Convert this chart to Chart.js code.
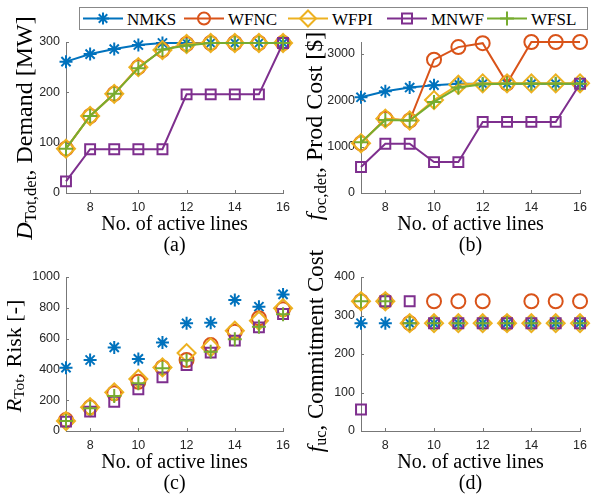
<!DOCTYPE html>
<html>
<head>
<meta charset="utf-8">
<script src="https://cdn.jsdelivr.net/npm/chart.js@4.4.1/dist/chart.umd.min.js"></script>
<style>
  body { margin: 0; background: #fff; }
  #wrap { position: relative; width: 594px; height: 499px; overflow: hidden; }
  canvas { position: absolute; }
  #legend { position: absolute; left: 79px; top: 7px; z-index: 5; }
</style>
</head>
<body>
<div id="wrap">
  <canvas id="chartC" width="297" height="259" style="left:0;top:240px"></canvas>
  <canvas id="chartD" width="297" height="259" style="left:297px;top:240px"></canvas>
  <canvas id="chartA" width="297" height="262" style="left:0;top:0"></canvas>
  <canvas id="chartB" width="297" height="262" style="left:297px;top:0"></canvas>
  <svg id="legend" width="509" height="23"></svg>
</div>
<script>
// x values shared by all panels
const activeLines = [7, 8, 9, 10, 11, 12, 13, 14, 15, 16];
const xTicks = [8, 10, 12, 14, 16];
const seriesNames = ['NMKS', 'WFNC', 'WFPI', 'MNWF', 'WFSL'];

// (a) demand [MW]
const demandNMKS = [261, 276, 286, 294, 298, 298, 298, 298, 298, 298];
const demandWFNC = [88, 153, 197, 250, 284, 296, 298, 298, 298, 298];
const demandWFPI = [88, 153, 197, 250, 284, 296, 298, 298, 298, 298];
const demandMNWF = [23, 87, 87, 87, 87, 196, 196, 196, 196, 298];
const demandWFSL = [88, 153, 197, 248, 285, 293, 298, 298, 298, 298];

// (b) production cost [$]
const prodNMKS = [2060, 2190, 2270, 2320, 2350, 2350, 2350, 2350, 2350, 2350];
const prodWFNC = [1070, 1600, 1560, 2870, 3140, 3225, 2360, 3250, 3250, 3250];
const prodWFPI = [1070, 1600, 1560, 2000, 2330, 2360, 2360, 2360, 2360, 2360];
const prodMNWF = [560, 1060, 1060, 665, 665, 1530, 1530, 1530, 1530, 2350];
const prodWFSL = [1090, 1570, 1560, 1960, 2270, 2340, 2350, 2350, 2350, 2350];

// (c) risk [-]
const riskNMKS = [411, 461, 543, 468, 574, 699, 703, 851, 807, 887];
const riskWFNC = [71, 154, 245, 320, 413, 461, 558, 645, 732, 790];
const riskWFPI = [65, 154, 251, 338, 413, 506, 543, 651, 716, 797];
const riskMNWF = [61, 126, 190, 271, 348, 429, 509, 587, 673, 760];
const riskWFSL = [65, 147, 227, 310, 407, 457, 515, 595, 677, 758];

// (d) commitment cost
const commitNMKS = [280, 280, 280, 280, 280, 280, 280, 280, 280, 280];
const commitWFNC = [337, 337, 280, 337, 337, 337, 280, 337, 337, 337];
const commitWFPI = [337, 337, 280, 280, 280, 280, 280, 280, 280, 280];
const commitMNWF = [56, 337, 337, 280, 280, 280, 280, 280, 280, 280];
const commitWFSL = [337, 337, 280, 280, 280, 280, 280, 280, 280, 280];

const colors = ['#0072BD', '#D95319', '#EDB120', '#7E2F8E', '#77AC30'];
const markers = [
  { style: 'star', r: 6.5 },
  { style: 'circle', r: 7 },
  { style: 'rectRot', r: 9 },
  { style: 'rect', r: 7 },
  { style: 'cross', r: 7 }
];

const serif = '"Liberation Serif", serif';
const sans = '"Liberation Sans", Arial, sans-serif';
const axisColor = '#777';
const tickColor = '#262626';

// draws axis titles, caption and inward tick marks
const axisText = {
  id: 'axisText',
  afterDraw(chart, args, o) {
    const { ctx, chartArea: a } = chart;
    const cx = (a.left + a.right) / 2;
    ctx.save();
    ctx.fillStyle = '#000';
    ctx.textAlign = 'center';
    ctx.textBaseline = 'alphabetic';
    ctx.font = '20px ' + serif;
    ctx.fillText('No. of active lines', cx, a.bottom + 37);
    ctx.fillText(o.caption, cx, a.bottom + 58);

    // y label with italic symbol and subscript
    ctx.translate(o.yx, o.yy);
    ctx.rotate(-Math.PI / 2);
    ctx.textAlign = 'left';
    const fontOf = p => (p.it ? 'italic ' : '') + (p.sub ? o.size * 0.7 : o.size) + 'px ' + serif;
    let total = 0;
    const parts = o.ylabel.map(p => {
      ctx.font = fontOf(p);
      const w = ctx.measureText(p.t).width;
      total += w;
      return Object.assign({ w }, p);
    });
    let x = -total / 2;
    parts.forEach(p => {
      ctx.font = fontOf(p);
      ctx.fillText(p.t, x, p.sub ? o.size * 0.15 : 0);
      x += p.w;
    });
    ctx.restore();

    // inward ticks
    ctx.save();
    ctx.strokeStyle = axisColor;
    ctx.lineWidth = 1;
    ctx.beginPath();
    chart.scales.x.ticks.forEach(t => {
      const px = Math.round(chart.scales.x.getPixelForValue(t.value)) + 0.5;
      ctx.moveTo(px, a.bottom);
      ctx.lineTo(px, a.bottom - 3);
    });
    chart.scales.y.ticks.forEach(t => {
      const py = Math.round(chart.scales.y.getPixelForValue(t.value)) + 0.5;
      ctx.moveTo(a.left, py);
      ctx.lineTo(a.left + 3, py);
    });
    ctx.stroke();
    ctx.restore();
  }
};

function makeChart(id, series, showLine, yMax, yStep, box, text) {
  const canvas = document.getElementById(id);
  const W = canvas.width, H = canvas.height;
  const datasets = series.map((vals, i) => ({
    label: seriesNames[i],
    data: activeLines.map((x, k) => ({ x: x, y: vals[k] })),
    showLine: showLine,
    borderColor: colors[i],
    borderWidth: 2,
    pointStyle: markers[i].style,
    pointRadius: markers[i].r,
    pointBorderWidth: 2,
    pointBorderColor: colors[i],
    pointBackgroundColor: 'rgba(0,0,0,0)',
    order: 5 - i,
    clip: false
  }));
  const yTicks = [];
  for (let v = 0; v <= yMax + 1e-9; v += yStep) yTicks.push(v);
  return new Chart(canvas, {
    type: 'line',
    data: { datasets },
    options: {
      responsive: false,
      animation: false,
      layout: { padding: { left: 0, right: W - box.right, top: box.top, bottom: 0 } },
      plugins: { legend: { display: false }, tooltip: { enabled: false }, axisText: text },
      scales: {
        x: {
          type: 'linear', min: 7, max: 16,
          afterBuildTicks: s => { s.ticks = xTicks.map(v => ({ value: v })); },
          afterFit: s => { s.height = H - box.bottom; },
          grid: { drawOnChartArea: false, drawTicks: false },
          border: { color: axisColor, width: 1 },
          ticks: { color: tickColor, padding: 7, maxRotation: 0, autoSkip: false,
                   callback: v => String(v), font: { family: sans, size: 12.5 } }
        },
        y: {
          type: 'linear', min: 0, max: yMax,
          afterBuildTicks: s => { s.ticks = yTicks.map(v => ({ value: v })); },
          afterFit: s => { s.width = box.left; },
          grid: { drawOnChartArea: false, drawTicks: false },
          border: { color: axisColor, width: 1 },
          ticks: { color: tickColor, padding: 6, autoSkip: false,
                   callback: v => String(v), font: { family: sans, size: 12.5 } }
        }
      }
    },
    plugins: [axisText]
  });
}

makeChart('chartA', [demandNMKS, demandWFNC, demandWFPI, demandMNWF, demandWFSL], true, 300, 100,
  { left: 66, right: 289, top: 42, bottom: 193 },
  { size: 24, caption: '(a)', yx: 32, yy: 128,
    ylabel: [{ t: 'D', it: true }, { t: 'Tot,det', sub: true }, { t: ', Demand [MW]' }] });

makeChart('chartB', [prodNMKS, prodWFNC, prodWFPI, prodMNWF, prodWFSL], true, 3250, 1000,
  { left: 64, right: 288, top: 42, bottom: 193 },
  { size: 24, caption: '(b)', yx: 25, yy: 126,
    ylabel: [{ t: 'f', it: true }, { t: 'oc,det', sub: true }, { t: ', Prod Cost [$]' }] });

makeChart('chartC', [riskNMKS, riskWFNC, riskWFPI, riskMNWF, riskWFSL], false, 1000, 200,
  { left: 66, right: 289, top: 37, bottom: 191 },
  { size: 22, caption: '(c)', yx: 21, yy: 116,
    ylabel: [{ t: 'R', it: true }, { t: 'Tot', sub: true }, { t: ', Risk [-]' }] });

makeChart('chartD', [commitNMKS, commitWFNC, commitWFPI, commitMNWF, commitWFSL], false, 400, 100,
  { left: 64, right: 288, top: 37, bottom: 191 },
  { size: 23, caption: '(d)', yx: 26, yy: 111,
    ylabel: [{ t: 'f', it: true }, { t: 'uc', sub: true }, { t: ', Commitment Cost' }] });

// legend (line sample with marker, then name)
const legend = document.getElementById('legend');
const ns = 'http://www.w3.org/2000/svg';
function el(tag, attrs) {
  const e = document.createElementNS(ns, tag);
  for (const k in attrs) e.setAttribute(k, attrs[k]);
  legend.appendChild(e);
  return e;
}
el('rect', { x: 0.5, y: 0.5, width: 508, height: 22, fill: '#fff', stroke: '#888', 'stroke-width': 1 });
const legendX = [4, 105, 209, 308, 408];
seriesNames.forEach((name, i) => {
  const x0 = legendX[i], cy = 11.5, c = colors[i], mx = x0 + 20;
  el('line', { x1: x0, y1: cy, x2: x0 + 40, y2: cy, stroke: c, 'stroke-width': 2 });
  const st = { fill: 'none', stroke: c, 'stroke-width': 2 };
  if (i === 0) {
    for (let k = 0; k < 4; k++) {
      const ang = k * Math.PI / 4, dx = 6 * Math.cos(ang), dy = 6 * Math.sin(ang);
      el('line', Object.assign({ x1: mx - dx, y1: cy - dy, x2: mx + dx, y2: cy + dy }, st));
    }
  } else if (i === 1) {
    el('circle', Object.assign({ cx: mx, cy: cy, r: 6 }, st));
  } else if (i === 2) {
    el('polygon', Object.assign({ points: `${mx},${cy - 8} ${mx + 8},${cy} ${mx},${cy + 8} ${mx - 8},${cy}` }, st));
  } else if (i === 3) {
    el('rect', Object.assign({ x: mx - 5, y: cy - 5, width: 10, height: 10 }, st));
  } else {
    el('line', Object.assign({ x1: mx - 7, y1: cy, x2: mx + 7, y2: cy }, st));
    el('line', Object.assign({ x1: mx, y1: cy - 7, x2: mx, y2: cy + 7 }, st));
  }
  const t = el('text', { x: x0 + 44, y: cy + 6, 'font-family': 'Liberation Serif, serif', 'font-size': 17, fill: '#000' });
  t.textContent = name;
});
</script>
</body>
</html>
